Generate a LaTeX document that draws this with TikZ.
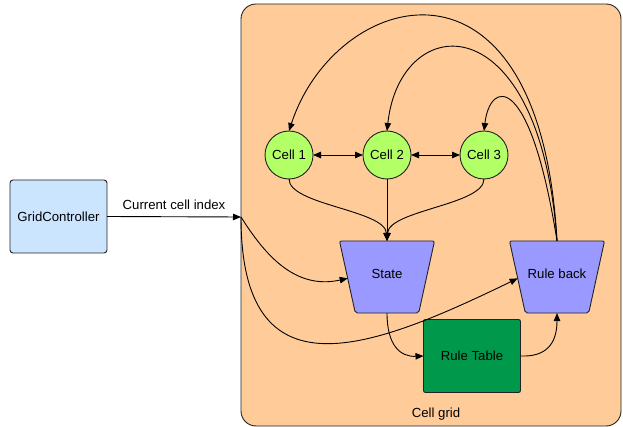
\documentclass[tikz,border=0pt]{standalone}
\usepackage{fontspec}
\setmainfont{Liberation Sans}
\usetikzlibrary{shapes.geometric,arrows.meta,calc}
\definecolor{gridfill}{HTML}{FFCC99}
\definecolor{ctrlfill}{HTML}{CCE5FF}
\definecolor{cellfill}{HTML}{B3FF66}
\definecolor{trapfill}{HTML}{9999FF}
\definecolor{tablefill}{HTML}{00994C}
\definecolor{edge}{HTML}{222222}
\begin{document}
\begin{tikzpicture}[x=1pt,y=-1pt,
  font=\fontsize{13.2}{15}\selectfont,
  every node/.style={outer sep=0pt},
  container/.style={draw=edge, line width=0.9pt, fill=gridfill, rounded corners=15pt,
    anchor=north west, minimum width=380pt, minimum height=422pt},
  ctrlbox/.style={draw=edge, line width=0.9pt, fill=ctrlfill, rounded corners=3pt,
    minimum width=97pt, minimum height=73pt},
  cellnode/.style={circle, draw=edge, line width=0.9pt, fill=cellfill, minimum size=48pt, inner sep=0pt},
  trapnode/.style={trapezium, draw=edge, line width=0.9pt, fill=trapfill, rounded corners=2pt,
    trapezium stretches=true, trapezium left angle=76, trapezium right angle=76,
    shape border rotate=180, minimum width=95pt, minimum height=72pt},
  tablebox/.style={draw=edge, line width=0.9pt, fill=tablefill, rounded corners=2pt,
    minimum width=97pt, minimum height=73pt},
  link/.style={draw=black, line width=0.9pt, -{Triangle[length=8pt,width=6.5pt]}},
  duallink/.style={draw=black, line width=0.9pt, {Triangle[length=8pt,width=6.5pt]}-{Triangle[length=8pt,width=6.5pt]}}
]
\useasboundingbox (0,0) rectangle (623,427);

% the cell grid container
\node[container] (grid) at (241,4) {};
\node (gridlabel) at (436,414) {Cell grid};
\coordinate (entry) at (241,217);

% controller outside the grid
\node[ctrlbox] (gc) at (58.5,216.5) {GridController};

% cells
\node[cellnode] (c1) at (289,155) {Cell 1};
\node[cellnode] (c2) at (387,155) {Cell 2};
\node[cellnode] (c3) at (484,155) {Cell 3};

% state, rule back and rule table
\node[trapnode] (state) at (387,277) {};
\node (statelabel) at (387,274) {State};
\node[trapnode] (rb) at (557,277) {};
\node (rblabel) at (557,274) {Rule back};
\node[tablebox] (rt) at (472,356) {Rule Table};

% connectors
\draw[link] (gc.east) -- node[above=4pt] {Current cell index} (entry);

\draw[duallink] (c1.east) -- (c2.west);
\draw[duallink] (c2.east) -- (c3.west);

\draw[link] (c1.south) .. controls (289,205) and (385,210) .. (state.90);
\draw[link] (c2.south) -- (state.90);
\draw[link] (c3.south) .. controls (484,205) and (389,210) .. (state.90);

\draw[link] (rb.90) .. controls (540,-70) and (335,-10) .. (c1.90);
\draw[link] (rb.90) .. controls (540,0) and (400,10) .. (c2.90);
\draw[link] (rb.90) .. controls (530,70) and (490,80) .. (c3.90);

\draw[link] (entry) .. controls (265,255) and (295,290) .. (state.182);
\draw[link] (entry) .. controls (241,400) and (370,350) .. (rb.182);

\draw[link] (state.270) .. controls (387,345) and (400,357) .. (rt.west);
\draw[link] (rt.east) .. controls (545,357) and (557,345) .. (rb.270);
\end{tikzpicture}
\end{document}
